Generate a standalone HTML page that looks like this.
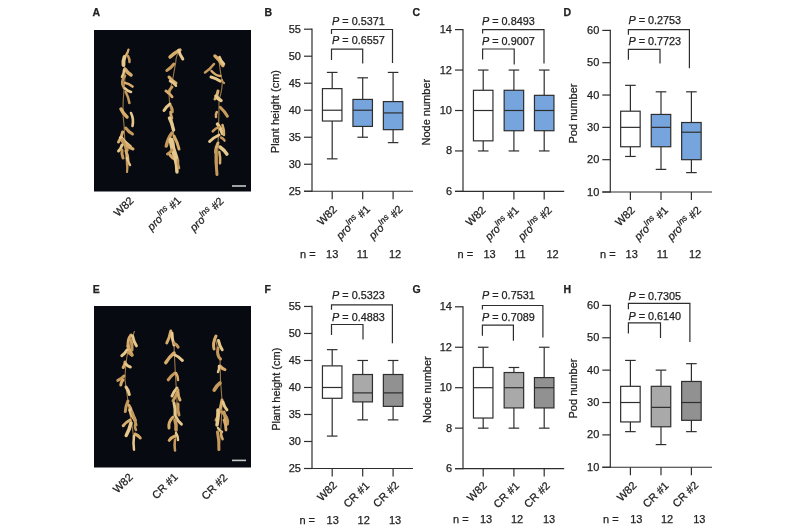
<!DOCTYPE html>
<html><head><meta charset="utf-8"><style>
html,body{margin:0;padding:0;background:#fff;overflow:hidden;width:800px;height:530px;}
svg{display:block;will-change:transform;}
text{font-family:"Liberation Sans", sans-serif;fill:#222;stroke:#222;stroke-width:0.25px;}
</style></head><body>
<svg width="800" height="530" viewBox="0 0 800 530">
<rect width="800" height="530" fill="#fff"/>
<line x1="312.00" y1="28.60" x2="312.00" y2="191.85" stroke="#2e2e2e" stroke-width="1.2"/>
<line x1="304.00" y1="191.25" x2="312.00" y2="191.25" stroke="#2e2e2e" stroke-width="1.2"/>
<text x="301.00" y="194.75" font-size="11" text-anchor="end" font-weight="normal" >25</text>
<line x1="304.00" y1="164.24" x2="312.00" y2="164.24" stroke="#2e2e2e" stroke-width="1.2"/>
<text x="301.00" y="167.74" font-size="11" text-anchor="end" font-weight="normal" >30</text>
<line x1="304.00" y1="137.23" x2="312.00" y2="137.23" stroke="#2e2e2e" stroke-width="1.2"/>
<text x="301.00" y="140.73" font-size="11" text-anchor="end" font-weight="normal" >35</text>
<line x1="304.00" y1="110.22" x2="312.00" y2="110.22" stroke="#2e2e2e" stroke-width="1.2"/>
<text x="301.00" y="113.72" font-size="11" text-anchor="end" font-weight="normal" >40</text>
<line x1="304.00" y1="83.22" x2="312.00" y2="83.22" stroke="#2e2e2e" stroke-width="1.2"/>
<text x="301.00" y="86.72" font-size="11" text-anchor="end" font-weight="normal" >45</text>
<line x1="304.00" y1="56.21" x2="312.00" y2="56.21" stroke="#2e2e2e" stroke-width="1.2"/>
<text x="301.00" y="59.71" font-size="11" text-anchor="end" font-weight="normal" >50</text>
<line x1="304.00" y1="29.20" x2="312.00" y2="29.20" stroke="#2e2e2e" stroke-width="1.2"/>
<text x="301.00" y="32.70" font-size="11" text-anchor="end" font-weight="normal" >55</text>
<line x1="304.00" y1="191.25" x2="413.00" y2="191.25" stroke="#2e2e2e" stroke-width="1.2"/>
<line x1="332.20" y1="191.25" x2="332.20" y2="199.25" stroke="#2e2e2e" stroke-width="1.2"/>
<line x1="362.70" y1="191.25" x2="362.70" y2="199.25" stroke="#2e2e2e" stroke-width="1.2"/>
<line x1="393.10" y1="191.25" x2="393.10" y2="199.25" stroke="#2e2e2e" stroke-width="1.2"/>
<line x1="332.20" y1="72.41" x2="332.20" y2="88.62" stroke="#2e2e2e" stroke-width="1.2"/>
<line x1="332.20" y1="121.03" x2="332.20" y2="158.84" stroke="#2e2e2e" stroke-width="1.2"/>
<line x1="326.90" y1="72.41" x2="337.50" y2="72.41" stroke="#2e2e2e" stroke-width="1.2"/>
<line x1="326.90" y1="158.84" x2="337.50" y2="158.84" stroke="#2e2e2e" stroke-width="1.2"/>
<rect x="322.45" y="88.62" width="19.50" height="32.41" fill="#fff" stroke="#2e2e2e" stroke-width="1.2"/>
<line x1="322.45" y1="110.22" x2="341.95" y2="110.22" stroke="#2e2e2e" stroke-width="1.2"/>
<line x1="362.70" y1="77.81" x2="362.70" y2="99.42" stroke="#2e2e2e" stroke-width="1.2"/>
<line x1="362.70" y1="126.43" x2="362.70" y2="137.23" stroke="#2e2e2e" stroke-width="1.2"/>
<line x1="357.40" y1="77.81" x2="368.00" y2="77.81" stroke="#2e2e2e" stroke-width="1.2"/>
<line x1="357.40" y1="137.23" x2="368.00" y2="137.23" stroke="#2e2e2e" stroke-width="1.2"/>
<rect x="352.95" y="99.42" width="19.50" height="27.01" fill="#76a4dd" stroke="#2e2e2e" stroke-width="1.2"/>
<line x1="352.95" y1="110.22" x2="372.45" y2="110.22" stroke="#2e2e2e" stroke-width="1.2"/>
<line x1="393.10" y1="72.41" x2="393.10" y2="101.58" stroke="#2e2e2e" stroke-width="1.2"/>
<line x1="393.10" y1="129.67" x2="393.10" y2="142.63" stroke="#2e2e2e" stroke-width="1.2"/>
<line x1="387.80" y1="72.41" x2="398.40" y2="72.41" stroke="#2e2e2e" stroke-width="1.2"/>
<line x1="387.80" y1="142.63" x2="398.40" y2="142.63" stroke="#2e2e2e" stroke-width="1.2"/>
<rect x="383.35" y="101.58" width="19.50" height="28.09" fill="#76a4dd" stroke="#2e2e2e" stroke-width="1.2"/>
<line x1="383.35" y1="112.93" x2="402.85" y2="112.93" stroke="#2e2e2e" stroke-width="1.2"/>
<polyline points="331.50,34.00 331.50,29.50 392.50,29.50 392.50,63.00" fill="none" stroke="#2e2e2e" stroke-width="1.2"/>
<polyline points="331.50,60.00 331.50,49.20 362.70,49.20 362.70,63.50" fill="none" stroke="#2e2e2e" stroke-width="1.2"/>
<text x="332.10" y="24.70" font-size="10.85"><tspan font-style="italic">P</tspan> = 0.5371</text>
<text x="332.10" y="44.40" font-size="10.85"><tspan font-style="italic">P</tspan> = 0.6557</text>
<text transform="translate(279.20,111.60) rotate(-90)" font-size="11" text-anchor="middle">Plant height (cm)</text>
<text x="264.50" y="15.50" font-size="10.5" font-weight="bold">B</text>
<text transform="translate(337.70,210.05) rotate(-45)" font-size="11" text-anchor="end">W82</text>
<text transform="translate(370.75,209.90) rotate(-45)" font-size="11" text-anchor="end"><tspan font-style="italic">pro</tspan><tspan font-style="italic" font-size="8.5" dy="-4.5">Ins</tspan><tspan dy="4.5"> #1</tspan></text>
<text transform="translate(403.35,209.90) rotate(-45)" font-size="11" text-anchor="end"><tspan font-style="italic">pro</tspan><tspan font-style="italic" font-size="8.5" dy="-4.5">Ins</tspan><tspan dy="4.5"> #2</tspan></text>
<text x="300.00" y="257.50" font-size="11">n =</text>
<text x="332.20" y="257.50" font-size="11" text-anchor="middle">13</text>
<text x="362.50" y="257.50" font-size="11" text-anchor="middle">11</text>
<text x="395.00" y="257.50" font-size="11" text-anchor="middle">12</text>
<line x1="463.00" y1="29.00" x2="463.00" y2="192.00" stroke="#2e2e2e" stroke-width="1.2"/>
<line x1="455.00" y1="191.40" x2="463.00" y2="191.40" stroke="#2e2e2e" stroke-width="1.2"/>
<text x="452.00" y="194.90" font-size="11" text-anchor="end" font-weight="normal" >6</text>
<line x1="455.00" y1="150.95" x2="463.00" y2="150.95" stroke="#2e2e2e" stroke-width="1.2"/>
<text x="452.00" y="154.45" font-size="11" text-anchor="end" font-weight="normal" >8</text>
<line x1="455.00" y1="110.50" x2="463.00" y2="110.50" stroke="#2e2e2e" stroke-width="1.2"/>
<text x="452.00" y="114.00" font-size="11" text-anchor="end" font-weight="normal" >10</text>
<line x1="455.00" y1="70.05" x2="463.00" y2="70.05" stroke="#2e2e2e" stroke-width="1.2"/>
<text x="452.00" y="73.55" font-size="11" text-anchor="end" font-weight="normal" >12</text>
<line x1="455.00" y1="29.60" x2="463.00" y2="29.60" stroke="#2e2e2e" stroke-width="1.2"/>
<text x="452.00" y="33.10" font-size="11" text-anchor="end" font-weight="normal" >14</text>
<line x1="455.00" y1="191.40" x2="564.20" y2="191.40" stroke="#2e2e2e" stroke-width="1.2"/>
<line x1="483.20" y1="191.40" x2="483.20" y2="199.40" stroke="#2e2e2e" stroke-width="1.2"/>
<line x1="513.90" y1="191.40" x2="513.90" y2="199.40" stroke="#2e2e2e" stroke-width="1.2"/>
<line x1="544.20" y1="191.40" x2="544.20" y2="199.40" stroke="#2e2e2e" stroke-width="1.2"/>
<line x1="483.20" y1="70.05" x2="483.20" y2="90.28" stroke="#2e2e2e" stroke-width="1.2"/>
<line x1="483.20" y1="140.84" x2="483.20" y2="150.95" stroke="#2e2e2e" stroke-width="1.2"/>
<line x1="477.90" y1="70.05" x2="488.50" y2="70.05" stroke="#2e2e2e" stroke-width="1.2"/>
<line x1="477.90" y1="150.95" x2="488.50" y2="150.95" stroke="#2e2e2e" stroke-width="1.2"/>
<rect x="473.45" y="90.28" width="19.50" height="50.56" fill="#fff" stroke="#2e2e2e" stroke-width="1.2"/>
<line x1="473.45" y1="110.50" x2="492.95" y2="110.50" stroke="#2e2e2e" stroke-width="1.2"/>
<line x1="513.90" y1="70.05" x2="513.90" y2="90.28" stroke="#2e2e2e" stroke-width="1.2"/>
<line x1="513.90" y1="130.72" x2="513.90" y2="150.95" stroke="#2e2e2e" stroke-width="1.2"/>
<line x1="508.60" y1="70.05" x2="519.20" y2="70.05" stroke="#2e2e2e" stroke-width="1.2"/>
<line x1="508.60" y1="150.95" x2="519.20" y2="150.95" stroke="#2e2e2e" stroke-width="1.2"/>
<rect x="504.15" y="90.28" width="19.50" height="40.45" fill="#76a4dd" stroke="#2e2e2e" stroke-width="1.2"/>
<line x1="504.15" y1="110.50" x2="523.65" y2="110.50" stroke="#2e2e2e" stroke-width="1.2"/>
<line x1="544.20" y1="70.05" x2="544.20" y2="95.33" stroke="#2e2e2e" stroke-width="1.2"/>
<line x1="544.20" y1="130.72" x2="544.20" y2="150.95" stroke="#2e2e2e" stroke-width="1.2"/>
<line x1="538.90" y1="70.05" x2="549.50" y2="70.05" stroke="#2e2e2e" stroke-width="1.2"/>
<line x1="538.90" y1="150.95" x2="549.50" y2="150.95" stroke="#2e2e2e" stroke-width="1.2"/>
<rect x="534.45" y="95.33" width="19.50" height="35.39" fill="#76a4dd" stroke="#2e2e2e" stroke-width="1.2"/>
<line x1="534.45" y1="110.50" x2="553.95" y2="110.50" stroke="#2e2e2e" stroke-width="1.2"/>
<polyline points="482.60,33.50 482.60,29.60 544.00,29.60 544.00,63.60" fill="none" stroke="#2e2e2e" stroke-width="1.2"/>
<polyline points="482.60,59.60 482.60,49.00 514.20,49.00 514.20,64.40" fill="none" stroke="#2e2e2e" stroke-width="1.2"/>
<text x="482.00" y="25.00" font-size="10.85"><tspan font-style="italic">P</tspan> = 0.8493</text>
<text x="482.00" y="45.00" font-size="10.85"><tspan font-style="italic">P</tspan> = 0.9007</text>
<text transform="translate(430.30,112.15) rotate(-90)" font-size="11" text-anchor="middle">Node number</text>
<text x="412.40" y="15.60" font-size="10.5" font-weight="bold">C</text>
<text transform="translate(486.35,210.85) rotate(-45)" font-size="11" text-anchor="end">W82</text>
<text transform="translate(519.65,210.80) rotate(-45)" font-size="11" text-anchor="end"><tspan font-style="italic">pro</tspan><tspan font-style="italic" font-size="8.5" dy="-4.5">Ins</tspan><tspan dy="4.5"> #1</tspan></text>
<text transform="translate(552.55,210.80) rotate(-45)" font-size="11" text-anchor="end"><tspan font-style="italic">pro</tspan><tspan font-style="italic" font-size="8.5" dy="-4.5">Ins</tspan><tspan dy="4.5"> #2</tspan></text>
<text x="457.50" y="257.50" font-size="11">n =</text>
<text x="489.50" y="257.50" font-size="11" text-anchor="middle">13</text>
<text x="520.00" y="257.50" font-size="11" text-anchor="middle">11</text>
<text x="552.50" y="257.50" font-size="11" text-anchor="middle">12</text>
<line x1="610.30" y1="29.80" x2="610.30" y2="192.60" stroke="#2e2e2e" stroke-width="1.2"/>
<line x1="602.30" y1="192.00" x2="610.30" y2="192.00" stroke="#2e2e2e" stroke-width="1.2"/>
<text x="599.30" y="195.50" font-size="11" text-anchor="end" font-weight="normal" >10</text>
<line x1="602.30" y1="159.68" x2="610.30" y2="159.68" stroke="#2e2e2e" stroke-width="1.2"/>
<text x="599.30" y="163.18" font-size="11" text-anchor="end" font-weight="normal" >20</text>
<line x1="602.30" y1="127.36" x2="610.30" y2="127.36" stroke="#2e2e2e" stroke-width="1.2"/>
<text x="599.30" y="130.86" font-size="11" text-anchor="end" font-weight="normal" >30</text>
<line x1="602.30" y1="95.04" x2="610.30" y2="95.04" stroke="#2e2e2e" stroke-width="1.2"/>
<text x="599.30" y="98.54" font-size="11" text-anchor="end" font-weight="normal" >40</text>
<line x1="602.30" y1="62.72" x2="610.30" y2="62.72" stroke="#2e2e2e" stroke-width="1.2"/>
<text x="599.30" y="66.22" font-size="11" text-anchor="end" font-weight="normal" >50</text>
<line x1="602.30" y1="30.40" x2="610.30" y2="30.40" stroke="#2e2e2e" stroke-width="1.2"/>
<text x="599.30" y="33.90" font-size="11" text-anchor="end" font-weight="normal" >60</text>
<line x1="602.30" y1="192.00" x2="712.00" y2="192.00" stroke="#2e2e2e" stroke-width="1.2"/>
<line x1="630.40" y1="192.00" x2="630.40" y2="200.00" stroke="#2e2e2e" stroke-width="1.2"/>
<line x1="661.00" y1="192.00" x2="661.00" y2="200.00" stroke="#2e2e2e" stroke-width="1.2"/>
<line x1="691.40" y1="192.00" x2="691.40" y2="200.00" stroke="#2e2e2e" stroke-width="1.2"/>
<line x1="630.40" y1="85.34" x2="630.40" y2="111.20" stroke="#2e2e2e" stroke-width="1.2"/>
<line x1="630.40" y1="146.75" x2="630.40" y2="156.45" stroke="#2e2e2e" stroke-width="1.2"/>
<line x1="625.10" y1="85.34" x2="635.70" y2="85.34" stroke="#2e2e2e" stroke-width="1.2"/>
<line x1="625.10" y1="156.45" x2="635.70" y2="156.45" stroke="#2e2e2e" stroke-width="1.2"/>
<rect x="620.65" y="111.20" width="19.50" height="35.55" fill="#fff" stroke="#2e2e2e" stroke-width="1.2"/>
<line x1="620.65" y1="127.36" x2="640.15" y2="127.36" stroke="#2e2e2e" stroke-width="1.2"/>
<line x1="661.00" y1="91.81" x2="661.00" y2="114.43" stroke="#2e2e2e" stroke-width="1.2"/>
<line x1="661.00" y1="146.75" x2="661.00" y2="169.38" stroke="#2e2e2e" stroke-width="1.2"/>
<line x1="655.70" y1="91.81" x2="666.30" y2="91.81" stroke="#2e2e2e" stroke-width="1.2"/>
<line x1="655.70" y1="169.38" x2="666.30" y2="169.38" stroke="#2e2e2e" stroke-width="1.2"/>
<rect x="651.25" y="114.43" width="19.50" height="32.32" fill="#76a4dd" stroke="#2e2e2e" stroke-width="1.2"/>
<line x1="651.25" y1="127.36" x2="670.75" y2="127.36" stroke="#2e2e2e" stroke-width="1.2"/>
<line x1="691.40" y1="91.81" x2="691.40" y2="122.51" stroke="#2e2e2e" stroke-width="1.2"/>
<line x1="691.40" y1="159.68" x2="691.40" y2="172.61" stroke="#2e2e2e" stroke-width="1.2"/>
<line x1="686.10" y1="91.81" x2="696.70" y2="91.81" stroke="#2e2e2e" stroke-width="1.2"/>
<line x1="686.10" y1="172.61" x2="696.70" y2="172.61" stroke="#2e2e2e" stroke-width="1.2"/>
<rect x="681.65" y="122.51" width="19.50" height="37.17" fill="#76a4dd" stroke="#2e2e2e" stroke-width="1.2"/>
<line x1="681.65" y1="132.21" x2="701.15" y2="132.21" stroke="#2e2e2e" stroke-width="1.2"/>
<polyline points="628.40,34.80 628.40,29.60 689.40,29.60 689.40,68.20" fill="none" stroke="#2e2e2e" stroke-width="1.2"/>
<polyline points="628.40,59.80 628.40,49.30 660.00,49.30 660.00,63.60" fill="none" stroke="#2e2e2e" stroke-width="1.2"/>
<text x="628.40" y="24.40" font-size="10.85"><tspan font-style="italic">P</tspan> = 0.2753</text>
<text x="628.40" y="45.00" font-size="10.85"><tspan font-style="italic">P</tspan> = 0.7723</text>
<text transform="translate(577.20,113.50) rotate(-90)" font-size="11" text-anchor="middle">Pod number</text>
<text x="563.60" y="15.50" font-size="10.5" font-weight="bold">D</text>
<text transform="translate(635.70,210.80) rotate(-45)" font-size="11" text-anchor="end">W82</text>
<text transform="translate(668.85,210.80) rotate(-45)" font-size="11" text-anchor="end"><tspan font-style="italic">pro</tspan><tspan font-style="italic" font-size="8.5" dy="-4.5">Ins</tspan><tspan dy="4.5"> #1</tspan></text>
<text transform="translate(701.75,210.80) rotate(-45)" font-size="11" text-anchor="end"><tspan font-style="italic">pro</tspan><tspan font-style="italic" font-size="8.5" dy="-4.5">Ins</tspan><tspan dy="4.5"> #2</tspan></text>
<text x="600.00" y="257.50" font-size="11">n =</text>
<text x="631.70" y="257.50" font-size="11" text-anchor="middle">13</text>
<text x="662.50" y="257.50" font-size="11" text-anchor="middle">11</text>
<text x="695.00" y="257.50" font-size="11" text-anchor="middle">12</text>
<line x1="312.00" y1="305.85" x2="312.00" y2="469.10" stroke="#2e2e2e" stroke-width="1.2"/>
<line x1="304.00" y1="468.50" x2="312.00" y2="468.50" stroke="#2e2e2e" stroke-width="1.2"/>
<text x="301.00" y="472.00" font-size="11" text-anchor="end" font-weight="normal" >25</text>
<line x1="304.00" y1="441.49" x2="312.00" y2="441.49" stroke="#2e2e2e" stroke-width="1.2"/>
<text x="301.00" y="444.99" font-size="11" text-anchor="end" font-weight="normal" >30</text>
<line x1="304.00" y1="414.48" x2="312.00" y2="414.48" stroke="#2e2e2e" stroke-width="1.2"/>
<text x="301.00" y="417.98" font-size="11" text-anchor="end" font-weight="normal" >35</text>
<line x1="304.00" y1="387.48" x2="312.00" y2="387.48" stroke="#2e2e2e" stroke-width="1.2"/>
<text x="301.00" y="390.98" font-size="11" text-anchor="end" font-weight="normal" >40</text>
<line x1="304.00" y1="360.47" x2="312.00" y2="360.47" stroke="#2e2e2e" stroke-width="1.2"/>
<text x="301.00" y="363.97" font-size="11" text-anchor="end" font-weight="normal" >45</text>
<line x1="304.00" y1="333.46" x2="312.00" y2="333.46" stroke="#2e2e2e" stroke-width="1.2"/>
<text x="301.00" y="336.96" font-size="11" text-anchor="end" font-weight="normal" >50</text>
<line x1="304.00" y1="306.45" x2="312.00" y2="306.45" stroke="#2e2e2e" stroke-width="1.2"/>
<text x="301.00" y="309.95" font-size="11" text-anchor="end" font-weight="normal" >55</text>
<line x1="304.00" y1="468.50" x2="413.00" y2="468.50" stroke="#2e2e2e" stroke-width="1.2"/>
<line x1="332.20" y1="468.50" x2="332.20" y2="476.50" stroke="#2e2e2e" stroke-width="1.2"/>
<line x1="362.70" y1="468.50" x2="362.70" y2="476.50" stroke="#2e2e2e" stroke-width="1.2"/>
<line x1="393.10" y1="468.50" x2="393.10" y2="476.50" stroke="#2e2e2e" stroke-width="1.2"/>
<line x1="332.20" y1="349.66" x2="332.20" y2="365.87" stroke="#2e2e2e" stroke-width="1.2"/>
<line x1="332.20" y1="398.28" x2="332.20" y2="436.09" stroke="#2e2e2e" stroke-width="1.2"/>
<line x1="326.90" y1="349.66" x2="337.50" y2="349.66" stroke="#2e2e2e" stroke-width="1.2"/>
<line x1="326.90" y1="436.09" x2="337.50" y2="436.09" stroke="#2e2e2e" stroke-width="1.2"/>
<rect x="322.45" y="365.87" width="19.50" height="32.41" fill="#fff" stroke="#2e2e2e" stroke-width="1.2"/>
<line x1="322.45" y1="387.48" x2="341.95" y2="387.48" stroke="#2e2e2e" stroke-width="1.2"/>
<line x1="362.70" y1="360.47" x2="362.70" y2="374.51" stroke="#2e2e2e" stroke-width="1.2"/>
<line x1="362.70" y1="401.90" x2="362.70" y2="419.88" stroke="#2e2e2e" stroke-width="1.2"/>
<line x1="357.40" y1="360.47" x2="368.00" y2="360.47" stroke="#2e2e2e" stroke-width="1.2"/>
<line x1="357.40" y1="419.88" x2="368.00" y2="419.88" stroke="#2e2e2e" stroke-width="1.2"/>
<rect x="352.95" y="374.51" width="19.50" height="27.39" fill="#a9a9a9" stroke="#2e2e2e" stroke-width="1.2"/>
<line x1="352.95" y1="392.88" x2="372.45" y2="392.88" stroke="#2e2e2e" stroke-width="1.2"/>
<line x1="393.10" y1="360.47" x2="393.10" y2="374.51" stroke="#2e2e2e" stroke-width="1.2"/>
<line x1="393.10" y1="406.38" x2="393.10" y2="419.88" stroke="#2e2e2e" stroke-width="1.2"/>
<line x1="387.80" y1="360.47" x2="398.40" y2="360.47" stroke="#2e2e2e" stroke-width="1.2"/>
<line x1="387.80" y1="419.88" x2="398.40" y2="419.88" stroke="#2e2e2e" stroke-width="1.2"/>
<rect x="383.35" y="374.51" width="19.50" height="31.87" fill="#919191" stroke="#2e2e2e" stroke-width="1.2"/>
<line x1="383.35" y1="392.88" x2="402.85" y2="392.88" stroke="#2e2e2e" stroke-width="1.2"/>
<polyline points="331.50,309.70 331.50,304.80 392.40,304.80 392.40,343.30" fill="none" stroke="#2e2e2e" stroke-width="1.2"/>
<polyline points="331.50,334.90 331.50,324.50 363.00,324.50 363.00,339.40" fill="none" stroke="#2e2e2e" stroke-width="1.2"/>
<text x="332.10" y="299.10" font-size="10.85"><tspan font-style="italic">P</tspan> = 0.5323</text>
<text x="332.10" y="320.50" font-size="10.85"><tspan font-style="italic">P</tspan> = 0.4883</text>
<text transform="translate(280.00,389.25) rotate(-90)" font-size="11" text-anchor="middle">Plant height (cm)</text>
<text x="264.50" y="292.75" font-size="10.5" font-weight="bold">F</text>
<text transform="translate(337.70,485.80) rotate(-45)" font-size="11" text-anchor="end">W82</text>
<text transform="translate(370.00,486.30) rotate(-45)" font-size="11" text-anchor="end">CR #1</text>
<text transform="translate(399.65,485.90) rotate(-45)" font-size="11" text-anchor="end">CR #2</text>
<text x="299.40" y="524.20" font-size="11">n =</text>
<text x="332.70" y="524.20" font-size="11" text-anchor="middle">13</text>
<text x="363.70" y="524.20" font-size="11" text-anchor="middle">12</text>
<text x="395.10" y="524.20" font-size="11" text-anchor="middle">13</text>
<line x1="463.00" y1="306.20" x2="463.00" y2="469.20" stroke="#2e2e2e" stroke-width="1.2"/>
<line x1="455.00" y1="468.60" x2="463.00" y2="468.60" stroke="#2e2e2e" stroke-width="1.2"/>
<text x="452.00" y="472.10" font-size="11" text-anchor="end" font-weight="normal" >6</text>
<line x1="455.00" y1="428.15" x2="463.00" y2="428.15" stroke="#2e2e2e" stroke-width="1.2"/>
<text x="452.00" y="431.65" font-size="11" text-anchor="end" font-weight="normal" >8</text>
<line x1="455.00" y1="387.70" x2="463.00" y2="387.70" stroke="#2e2e2e" stroke-width="1.2"/>
<text x="452.00" y="391.20" font-size="11" text-anchor="end" font-weight="normal" >10</text>
<line x1="455.00" y1="347.25" x2="463.00" y2="347.25" stroke="#2e2e2e" stroke-width="1.2"/>
<text x="452.00" y="350.75" font-size="11" text-anchor="end" font-weight="normal" >12</text>
<line x1="455.00" y1="306.80" x2="463.00" y2="306.80" stroke="#2e2e2e" stroke-width="1.2"/>
<text x="452.00" y="310.30" font-size="11" text-anchor="end" font-weight="normal" >14</text>
<line x1="455.00" y1="468.60" x2="564.20" y2="468.60" stroke="#2e2e2e" stroke-width="1.2"/>
<line x1="483.20" y1="468.60" x2="483.20" y2="476.60" stroke="#2e2e2e" stroke-width="1.2"/>
<line x1="513.90" y1="468.60" x2="513.90" y2="476.60" stroke="#2e2e2e" stroke-width="1.2"/>
<line x1="544.20" y1="468.60" x2="544.20" y2="476.60" stroke="#2e2e2e" stroke-width="1.2"/>
<line x1="483.20" y1="347.25" x2="483.20" y2="367.48" stroke="#2e2e2e" stroke-width="1.2"/>
<line x1="483.20" y1="418.04" x2="483.20" y2="428.15" stroke="#2e2e2e" stroke-width="1.2"/>
<line x1="477.90" y1="347.25" x2="488.50" y2="347.25" stroke="#2e2e2e" stroke-width="1.2"/>
<line x1="477.90" y1="428.15" x2="488.50" y2="428.15" stroke="#2e2e2e" stroke-width="1.2"/>
<rect x="473.45" y="367.48" width="19.50" height="50.56" fill="#fff" stroke="#2e2e2e" stroke-width="1.2"/>
<line x1="473.45" y1="387.70" x2="492.95" y2="387.70" stroke="#2e2e2e" stroke-width="1.2"/>
<line x1="513.90" y1="367.48" x2="513.90" y2="372.53" stroke="#2e2e2e" stroke-width="1.2"/>
<line x1="513.90" y1="407.93" x2="513.90" y2="428.15" stroke="#2e2e2e" stroke-width="1.2"/>
<line x1="508.60" y1="367.48" x2="519.20" y2="367.48" stroke="#2e2e2e" stroke-width="1.2"/>
<line x1="508.60" y1="428.15" x2="519.20" y2="428.15" stroke="#2e2e2e" stroke-width="1.2"/>
<rect x="504.15" y="372.53" width="19.50" height="35.39" fill="#a9a9a9" stroke="#2e2e2e" stroke-width="1.2"/>
<line x1="504.15" y1="387.70" x2="523.65" y2="387.70" stroke="#2e2e2e" stroke-width="1.2"/>
<line x1="544.20" y1="347.25" x2="544.20" y2="377.59" stroke="#2e2e2e" stroke-width="1.2"/>
<line x1="544.20" y1="407.93" x2="544.20" y2="428.15" stroke="#2e2e2e" stroke-width="1.2"/>
<line x1="538.90" y1="347.25" x2="549.50" y2="347.25" stroke="#2e2e2e" stroke-width="1.2"/>
<line x1="538.90" y1="428.15" x2="549.50" y2="428.15" stroke="#2e2e2e" stroke-width="1.2"/>
<rect x="534.45" y="377.59" width="19.50" height="30.34" fill="#919191" stroke="#2e2e2e" stroke-width="1.2"/>
<line x1="534.45" y1="387.70" x2="553.95" y2="387.70" stroke="#2e2e2e" stroke-width="1.2"/>
<polyline points="482.40,309.60 482.40,305.50 542.90,305.50 542.90,337.40" fill="none" stroke="#2e2e2e" stroke-width="1.2"/>
<polyline points="482.40,335.75 482.40,325.20 513.40,325.20 513.40,340.80" fill="none" stroke="#2e2e2e" stroke-width="1.2"/>
<text x="482.00" y="299.40" font-size="10.85"><tspan font-style="italic">P</tspan> = 0.7531</text>
<text x="482.00" y="320.50" font-size="10.85"><tspan font-style="italic">P</tspan> = 0.7089</text>
<text transform="translate(430.50,389.55) rotate(-90)" font-size="11" text-anchor="middle">Node number</text>
<text x="412.40" y="293.00" font-size="10.5" font-weight="bold">G</text>
<text transform="translate(487.60,486.20) rotate(-45)" font-size="11" text-anchor="end">W82</text>
<text transform="translate(520.00,486.60) rotate(-45)" font-size="11" text-anchor="end">CR #1</text>
<text transform="translate(550.55,486.35) rotate(-45)" font-size="11" text-anchor="end">CR #2</text>
<text x="453.00" y="522.50" font-size="11">n =</text>
<text x="486.00" y="522.50" font-size="11" text-anchor="middle">13</text>
<text x="517.00" y="522.50" font-size="11" text-anchor="middle">12</text>
<text x="549.00" y="522.50" font-size="11" text-anchor="middle">13</text>
<line x1="610.30" y1="304.80" x2="610.30" y2="467.85" stroke="#2e2e2e" stroke-width="1.2"/>
<line x1="602.30" y1="467.25" x2="610.30" y2="467.25" stroke="#2e2e2e" stroke-width="1.2"/>
<text x="599.30" y="470.75" font-size="11" text-anchor="end" font-weight="normal" >10</text>
<line x1="602.30" y1="434.88" x2="610.30" y2="434.88" stroke="#2e2e2e" stroke-width="1.2"/>
<text x="599.30" y="438.38" font-size="11" text-anchor="end" font-weight="normal" >20</text>
<line x1="602.30" y1="402.51" x2="610.30" y2="402.51" stroke="#2e2e2e" stroke-width="1.2"/>
<text x="599.30" y="406.01" font-size="11" text-anchor="end" font-weight="normal" >30</text>
<line x1="602.30" y1="370.14" x2="610.30" y2="370.14" stroke="#2e2e2e" stroke-width="1.2"/>
<text x="599.30" y="373.64" font-size="11" text-anchor="end" font-weight="normal" >40</text>
<line x1="602.30" y1="337.77" x2="610.30" y2="337.77" stroke="#2e2e2e" stroke-width="1.2"/>
<text x="599.30" y="341.27" font-size="11" text-anchor="end" font-weight="normal" >50</text>
<line x1="602.30" y1="305.40" x2="610.30" y2="305.40" stroke="#2e2e2e" stroke-width="1.2"/>
<text x="599.30" y="308.90" font-size="11" text-anchor="end" font-weight="normal" >60</text>
<line x1="602.30" y1="467.25" x2="712.00" y2="467.25" stroke="#2e2e2e" stroke-width="1.2"/>
<line x1="630.40" y1="467.25" x2="630.40" y2="475.25" stroke="#2e2e2e" stroke-width="1.2"/>
<line x1="661.00" y1="467.25" x2="661.00" y2="475.25" stroke="#2e2e2e" stroke-width="1.2"/>
<line x1="691.40" y1="467.25" x2="691.40" y2="475.25" stroke="#2e2e2e" stroke-width="1.2"/>
<line x1="630.40" y1="360.43" x2="630.40" y2="386.32" stroke="#2e2e2e" stroke-width="1.2"/>
<line x1="630.40" y1="421.93" x2="630.40" y2="431.64" stroke="#2e2e2e" stroke-width="1.2"/>
<line x1="625.10" y1="360.43" x2="635.70" y2="360.43" stroke="#2e2e2e" stroke-width="1.2"/>
<line x1="625.10" y1="431.64" x2="635.70" y2="431.64" stroke="#2e2e2e" stroke-width="1.2"/>
<rect x="620.65" y="386.32" width="19.50" height="35.61" fill="#fff" stroke="#2e2e2e" stroke-width="1.2"/>
<line x1="620.65" y1="402.51" x2="640.15" y2="402.51" stroke="#2e2e2e" stroke-width="1.2"/>
<line x1="661.00" y1="370.14" x2="661.00" y2="386.32" stroke="#2e2e2e" stroke-width="1.2"/>
<line x1="661.00" y1="426.79" x2="661.00" y2="444.59" stroke="#2e2e2e" stroke-width="1.2"/>
<line x1="655.70" y1="370.14" x2="666.30" y2="370.14" stroke="#2e2e2e" stroke-width="1.2"/>
<line x1="655.70" y1="444.59" x2="666.30" y2="444.59" stroke="#2e2e2e" stroke-width="1.2"/>
<rect x="651.25" y="386.32" width="19.50" height="40.46" fill="#a9a9a9" stroke="#2e2e2e" stroke-width="1.2"/>
<line x1="651.25" y1="407.37" x2="670.75" y2="407.37" stroke="#2e2e2e" stroke-width="1.2"/>
<line x1="691.40" y1="363.67" x2="691.40" y2="381.47" stroke="#2e2e2e" stroke-width="1.2"/>
<line x1="691.40" y1="420.31" x2="691.40" y2="431.64" stroke="#2e2e2e" stroke-width="1.2"/>
<line x1="686.10" y1="363.67" x2="696.70" y2="363.67" stroke="#2e2e2e" stroke-width="1.2"/>
<line x1="686.10" y1="431.64" x2="696.70" y2="431.64" stroke="#2e2e2e" stroke-width="1.2"/>
<rect x="681.65" y="381.47" width="19.50" height="38.84" fill="#919191" stroke="#2e2e2e" stroke-width="1.2"/>
<line x1="681.65" y1="402.51" x2="701.15" y2="402.51" stroke="#2e2e2e" stroke-width="1.2"/>
<polyline points="628.40,309.20 628.40,303.30 689.90,303.30 689.90,342.00" fill="none" stroke="#2e2e2e" stroke-width="1.2"/>
<polyline points="628.40,333.60 628.40,322.80 660.50,322.80 660.50,338.10" fill="none" stroke="#2e2e2e" stroke-width="1.2"/>
<text x="628.40" y="299.50" font-size="10.85"><tspan font-style="italic">P</tspan> = 0.7305</text>
<text x="628.40" y="320.20" font-size="10.85"><tspan font-style="italic">P</tspan> = 0.6140</text>
<text transform="translate(577.20,388.50) rotate(-90)" font-size="11" text-anchor="middle">Pod number</text>
<text x="563.60" y="293.00" font-size="10.5" font-weight="bold">H</text>
<text transform="translate(637.40,486.05) rotate(-45)" font-size="11" text-anchor="end">W82</text>
<text transform="translate(669.35,486.30) rotate(-45)" font-size="11" text-anchor="end">CR #1</text>
<text transform="translate(699.00,485.90) rotate(-45)" font-size="11" text-anchor="end">CR #2</text>
<text x="603.00" y="522.50" font-size="11">n =</text>
<text x="636.30" y="522.50" font-size="11" text-anchor="middle">13</text>
<text x="667.00" y="522.50" font-size="11" text-anchor="middle">12</text>
<text x="699.30" y="522.50" font-size="11" text-anchor="middle">13</text>
<text x="92.50" y="15.80" font-size="10.5" text-anchor="start" font-weight="bold" >A</text>
<text x="92.80" y="293.30" font-size="10.5" text-anchor="start" font-weight="bold" >E</text>
<rect x="94" y="30" width="157" height="161.5" fill="#070a10"/>
<rect x="232" y="185.2" width="14" height="1.6" fill="#c8c8c8"/>
<text transform="translate(134.35,201.30) rotate(-45)" font-size="11" text-anchor="end">W82</text>
<text transform="translate(181.90,201.05) rotate(-45)" font-size="11" text-anchor="end"><tspan font-style="italic">pro</tspan><tspan font-style="italic" font-size="8.5" dy="-4.5">Ins</tspan><tspan dy="4.5"> #1</tspan></text>
<text transform="translate(224.35,201.95) rotate(-45)" font-size="11" text-anchor="end"><tspan font-style="italic">pro</tspan><tspan font-style="italic" font-size="8.5" dy="-4.5">Ins</tspan><tspan dy="4.5"> #2</tspan></text>
<rect x="94" y="306" width="157" height="161.5" fill="#070a10"/>
<rect x="232" y="459.6" width="14" height="1.6" fill="#c8c8c8"/>
<text transform="translate(133.50,477.80) rotate(-45)" font-size="11" text-anchor="end">W82</text>
<text transform="translate(178.50,477.60) rotate(-45)" font-size="11" text-anchor="end">CR #1</text>
<text transform="translate(228.00,478.35) rotate(-45)" font-size="11" text-anchor="end">CR #2</text>
<defs><filter id="soft" x="-30%" y="-5%" width="160%" height="110%"><feGaussianBlur stdDeviation="0.5"/></filter></defs><g filter="url(#soft)">
<path d="M128.5,50 Q124,56 124,64 Q126,72 124,90 Q122,110 124,125 Q125,150 127,172" fill="none" stroke="#9a7848" stroke-width="1.1"/>
<g fill="none" stroke-linecap="round"><path d="M128.5,49.5 Q127.9,53.2 125.5,56" stroke="#d8ad6c" stroke-width="2.2"/><path d="M124.5,57 Q123.0,60.9 123.5,65" stroke="#e6c78c" stroke-width="3.8"/><path d="M128,56 Q129.7,58.8 129.5,62" stroke="#c69a5c" stroke-width="2.5"/><path d="M125,69 Q127.3,72.7 131,75" stroke="#d8ad6c" stroke-width="3.5"/><path d="M124,70 Q124.0,73.8 122,77" stroke="#e6c78c" stroke-width="2.5"/><path d="M125,76 Q120.0,82.0 124,88" stroke="#c69a5c" stroke-width="2.6"/><path d="M124.7,82.8 Q129.0,83.8 132.5,86.51" stroke="#d8ad6c" stroke-width="2.6"/><path d="M125,88.5 Q127.5,91.1 131,92.0" stroke="#e6c78c" stroke-width="2.6"/><path d="M125.7,92 Q128.5,97.2 129.4,103" stroke="#c69a5c" stroke-width="2.6"/><path d="M121,109 Q123.2,113.6 127,117" stroke="#d8ad6c" stroke-width="3.5"/><path d="M131,113 Q134.0,119.0 132.5,126" stroke="#e6c78c" stroke-width="2.6"/><path d="M125.7,128 Q128.4,131.7 132.5,134" stroke="#c69a5c" stroke-width="3.0"/><path d="M122.6,132 Q121.5,137.4 118.5,142" stroke="#d8ad6c" stroke-width="3.0"/><path d="M121,138 Q124.8,143.2 130,147" stroke="#e6c78c" stroke-width="4.2"/><path d="M122,140 Q125.4,144.6 127,150" stroke="#c69a5c" stroke-width="3.5"/><path d="M127,145 Q129.4,147.8 133,149" stroke="#d8ad6c" stroke-width="3.0"/><path d="M122,145 Q121.1,148.5 118.5,151" stroke="#e6c78c" stroke-width="3.0"/><path d="M122,150 Q121.5,154.1 123,158" stroke="#c69a5c" stroke-width="3.0"/><path d="M126,151 Q128.0,155.8 128,161" stroke="#d8ad6c" stroke-width="3.0"/><path d="M127,158 Q127.6,161.9 130,165" stroke="#e6c78c" stroke-width="2.5"/><path d="M127,163 Q128.0,167.5 127,172" stroke="#c69a5c" stroke-width="2.2"/></g>
<path d="M180,50 Q176,55 175.8,62 Q173,80 169,95 Q169,105 172,115 Q174,140 176,172" fill="none" stroke="#9a7848" stroke-width="1.1"/>
<g fill="none" stroke-linecap="round"><path d="M170,57 Q174.4,52.7 180,50" stroke="#d8ad6c" stroke-width="3.4"/><path d="M178.6,50.2 Q179.8,55.0 182.8,59" stroke="#e6c78c" stroke-width="3.0"/><path d="M173.9,64 Q171.0,68.0 166.8,70.5" stroke="#c69a5c" stroke-width="3.0"/><path d="M169,77 Q171.8,80.8 176,83.15" stroke="#d8ad6c" stroke-width="3.0"/><path d="M170,81 Q173.6,82.6 176,85.7" stroke="#e6c78c" stroke-width="2.5"/><path d="M172,87 Q169.4,89.5 168.5,93" stroke="#c69a5c" stroke-width="3.0"/><path d="M166,91 Q169.7,93.1 172,96.7" stroke="#d8ad6c" stroke-width="3.0"/><path d="M170,104 Q166.3,106.6 164,110.5" stroke="#e6c78c" stroke-width="3.0"/><path d="M171,106 Q172.7,108.8 172.5,112" stroke="#c69a5c" stroke-width="2.5"/><path d="M170.5,112 Q170.3,115.2 172,118" stroke="#d8ad6c" stroke-width="2.5"/><path d="M169.5,118 Q172.4,123.7 173.5,130" stroke="#e6c78c" stroke-width="3.5"/><path d="M172,133 Q168.0,138.0 166.3,146" stroke="#c69a5c" stroke-width="3.5"/><path d="M174,136 Q177.4,142.1 179,149" stroke="#d8ad6c" stroke-width="3.0"/><path d="M171,140 Q172.5,149.3 176,158" stroke="#e6c78c" stroke-width="5.0"/><path d="M172,150 Q170.4,152.7 167.5,154" stroke="#c69a5c" stroke-width="3.0"/><path d="M170,155 Q172.4,158.3 176,160" stroke="#d8ad6c" stroke-width="3.0"/><path d="M175,158 Q177.0,164.9 177,172" stroke="#e6c78c" stroke-width="3.4"/><path d="M178,160 Q177.5,164.1 179,168" stroke="#c69a5c" stroke-width="2.6"/></g>
<path d="M219,57 Q219,66 222,80 Q223,88 219,100 Q219,125 217,173" fill="none" stroke="#9a7848" stroke-width="1.1"/>
<g fill="none" stroke-linecap="round"><path d="M215,56 Q219.8,60.1 223,65.5" stroke="#d8ad6c" stroke-width="3.5"/><path d="M219.5,57 Q220.9,61.0 224,64" stroke="#e6c78c" stroke-width="2.5"/><path d="M214,64 Q210.2,69.0 205,72.55" stroke="#c69a5c" stroke-width="2.5"/><path d="M211.5,71 Q216.0,76.0 220.3,76" stroke="#d8ad6c" stroke-width="2.5"/><path d="M211,77 Q215.9,78.1 220,81.05" stroke="#e6c78c" stroke-width="3.0"/><path d="M222,80 Q222.2,82.1 224,83" stroke="#c69a5c" stroke-width="2.2"/><path d="M218,91 Q217.4,95.4 215,99" stroke="#d8ad6c" stroke-width="3.0"/><path d="M216,96 Q217.8,99.0 221,100.5" stroke="#e6c78c" stroke-width="3.5"/><path d="M220.3,107.3 Q224.6,111.1 227.4,116.2" stroke="#c69a5c" stroke-width="3.0"/><path d="M216.8,112 Q215.4,114.3 216,117" stroke="#d8ad6c" stroke-width="2.5"/><path d="M217.5,124 Q220.9,128.3 222.5,133.5" stroke="#e6c78c" stroke-width="3.5"/><path d="M219,127 Q215.3,128.3 212.7,131.335" stroke="#c69a5c" stroke-width="2.5"/><path d="M222.5,125 Q224.2,129.9 224,135" stroke="#d8ad6c" stroke-width="2.5"/><path d="M219,135 Q213.7,137.4 209.6,141.5" stroke="#e6c78c" stroke-width="3.0"/><path d="M221,137.5 Q223.4,138.3 224.5,140.575" stroke="#c69a5c" stroke-width="2.5"/><path d="M218,143 Q215.8,147.2 215.5,152" stroke="#d8ad6c" stroke-width="3.0"/><path d="M220,147 Q224.2,149.9 226.9,154.105" stroke="#e6c78c" stroke-width="3.5"/><path d="M216,150 Q215.5,162.3 217,174.5" stroke="#c69a5c" stroke-width="3.0"/><path d="M219.3,152 Q220.6,157.6 220,163.3" stroke="#d8ad6c" stroke-width="2.5"/></g>
<path d="M134.5,331 Q130,345 127,356 Q125,370 125,380 Q128,400 129,410 Q134,430 134,451" fill="none" stroke="#9a7848" stroke-width="1.1"/>
<g fill="none" stroke-linecap="round"><path d="M131,335 Q127.0,340.0 128.5,347" stroke="#d8ad6c" stroke-width="3.0"/><path d="M132.6,336 Q133.6,341.3 136.4,345.8" stroke="#e6c78c" stroke-width="3.0"/><path d="M131,340 Q132.5,344.9 132,350" stroke="#c69a5c" stroke-width="3.0"/><path d="M128,346 Q129.1,350.9 132,355" stroke="#d8ad6c" stroke-width="3.5"/><path d="M127,350 Q125.1,353.5 121.8,355.7" stroke="#e6c78c" stroke-width="3.0"/><path d="M128,352 Q129.4,354.3 132,355" stroke="#c69a5c" stroke-width="2.5"/><path d="M125,362 Q125.1,365.1 123.2,367.5" stroke="#d8ad6c" stroke-width="3.0"/><path d="M126,364 Q127.6,366.3 130.3,367" stroke="#e6c78c" stroke-width="3.0"/><path d="M124,376 Q121.5,379.0 117.8,380.4" stroke="#c69a5c" stroke-width="3.0"/><path d="M123,380 Q121.0,382.1 120.8,385" stroke="#d8ad6c" stroke-width="3.0"/><path d="M126,387 Q128.6,390.3 129.3,394.5" stroke="#e6c78c" stroke-width="3.0"/><path d="M128,401 Q125.7,406.0 125.3,411.5" stroke="#c69a5c" stroke-width="3.0"/><path d="M129,405 Q131.3,408.1 131.7,412" stroke="#d8ad6c" stroke-width="2.6"/><path d="M130,410 Q131.6,415.4 135,420" stroke="#e6c78c" stroke-width="3.5"/><path d="M132,412 Q135.0,418.2 136,425" stroke="#c69a5c" stroke-width="3.0"/><path d="M130,420 Q126.0,422.1 123.2,425.76" stroke="#d8ad6c" stroke-width="3.0"/><path d="M131,423 Q129.5,429.6 126.2,435.5" stroke="#e6c78c" stroke-width="3.5"/><path d="M135,425 Q134.5,427.7 136,430" stroke="#c69a5c" stroke-width="2.5"/><path d="M135,434 Q138.2,435.2 140.2,437.94" stroke="#d8ad6c" stroke-width="3.0"/><path d="M134,436 Q133.0,442.8 134,449.6" stroke="#e6c78c" stroke-width="2.5"/></g>
<path d="M171,330 Q173,340 174,345 Q175,370 177,400 Q176,425 175,451" fill="none" stroke="#9a7848" stroke-width="1.1"/>
<g fill="none" stroke-linecap="round"><path d="M170.8,331 Q169.7,337.3 166.8,342.9" stroke="#d8ad6c" stroke-width="3.0"/><path d="M172,333 Q172.0,339.2 174,345" stroke="#e6c78c" stroke-width="3.0"/><path d="M174,343 Q176.8,344.4 178.1,347.2" stroke="#c69a5c" stroke-width="3.0"/><path d="M174,353 Q169.1,357.2 165.8,362.7" stroke="#d8ad6c" stroke-width="3.5"/><path d="M175,355 Q179.3,356.9 182.4,360.4" stroke="#e6c78c" stroke-width="3.0"/><path d="M175,373 Q170.9,375.7 168.2,379.86" stroke="#c69a5c" stroke-width="3.0"/><path d="M176,373 Q178.0,376.2 178,380" stroke="#d8ad6c" stroke-width="2.5"/><path d="M177,388 Q173.7,391.5 172,396" stroke="#e6c78c" stroke-width="3.0"/><path d="M178,390 Q176.4,395.8 173,400.8" stroke="#c69a5c" stroke-width="3.0"/><path d="M178,392 Q178.0,396.2 180,400" stroke="#d8ad6c" stroke-width="3.0"/><path d="M174,403 Q175.5,408.9 175,415" stroke="#e6c78c" stroke-width="3.0"/><path d="M178,404 Q177.5,409.6 179,415" stroke="#c69a5c" stroke-width="3.0"/><path d="M173,417 Q168.0,422.0 169,428" stroke="#d8ad6c" stroke-width="3.0"/><path d="M176,417 Q177.9,421.2 181.4,424.2" stroke="#e6c78c" stroke-width="3.0"/><path d="M175,420 Q176.5,424.9 176,430" stroke="#c69a5c" stroke-width="3.5"/><path d="M175,436 Q171.5,437.4 169.2,440.41" stroke="#d8ad6c" stroke-width="3.0"/><path d="M176,433 Q178.0,436.2 178,440" stroke="#e6c78c" stroke-width="2.5"/><path d="M175,440 Q174.0,445.3 175,450.6" stroke="#c69a5c" stroke-width="2.5"/></g>
<path d="M215,336 Q218,350 220,360 Q220,380 222,400 Q222,420 219,450" fill="none" stroke="#9a7848" stroke-width="1.1"/>
<g fill="none" stroke-linecap="round"><path d="M216,336 Q212.5,343.0 214,349" stroke="#d8ad6c" stroke-width="3.0"/><path d="M218.4,340.4 Q219.4,345.5 222.2,349.8" stroke="#e6c78c" stroke-width="3.0"/><path d="M218,348 Q216.5,356.0 220.5,359" stroke="#c69a5c" stroke-width="3.0"/><path d="M220,366 Q221.9,368.6 225,369.6" stroke="#d8ad6c" stroke-width="3.0"/><path d="M219,366 Q219.5,369.2 218,372" stroke="#e6c78c" stroke-width="2.5"/><path d="M220,383 Q216.3,385.9 214.2,390.1" stroke="#c69a5c" stroke-width="3.6"/><path d="M222,400 Q221.0,407.8 218,415" stroke="#d8ad6c" stroke-width="3.0"/><path d="M223,402 Q224.1,406.4 226.9,409.9" stroke="#e6c78c" stroke-width="3.0"/><path d="M220,410 Q218.9,415.4 216,420" stroke="#c69a5c" stroke-width="3.0"/><path d="M224,412 Q224.5,417.3 227,422" stroke="#d8ad6c" stroke-width="3.0"/><path d="M218,410 Q218.5,417.6 217,425" stroke="#e6c78c" stroke-width="3.5"/><path d="M222,412 Q229.0,418.0 227.4,424.2" stroke="#c69a5c" stroke-width="3.0"/><path d="M224,420 Q226.0,424.8 226,430" stroke="#d8ad6c" stroke-width="2.8"/><path d="M218,428 Q219.3,430.7 222,432" stroke="#e6c78c" stroke-width="2.5"/><path d="M217.5,432 Q219.2,440.7 218.9,449.6" stroke="#c69a5c" stroke-width="3.0"/><path d="M221,432 Q220.8,435.8 222.6,439.2" stroke="#d8ad6c" stroke-width="2.5"/></g>
</g>
</svg></body></html>
